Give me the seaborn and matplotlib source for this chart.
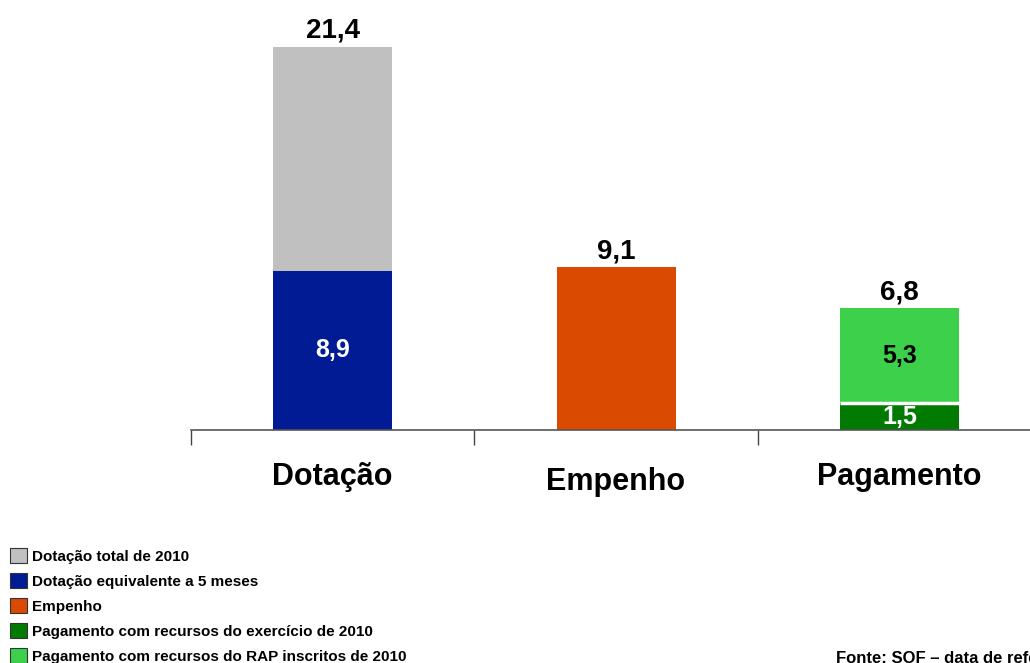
import matplotlib
matplotlib.use("Agg")
import matplotlib.pyplot as plt
from matplotlib.patches import Patch
import seaborn as sns
import pandas as pd

# dados (R$ bilhões)
categorias = ["Dotação", "Empenho", "Pagamento"]
valores_total = [21.4, 9.1, 6.8]       # topo de cada barra
valores_base = [8.9, None, 1.5]        # parte de baixo (5 meses / exercício)
valores_meio = [None, None, 5.3]       # parte RAP do pagamento

rotulos_total = ["21,4", "9,1", "6,8"]
rotulos_base = ["8,9", None, "1,5"]
rotulos_meio = [None, None, "5,3"]

legenda = [
    "Dotação total de 2010",
    "Dotação equivalente a 5 meses",
    "Empenho",
    "Pagamento com recursos do exercício de 2010",
    "Pagamento com recursos do RAP inscritos de 2010",
]
fonte = "Fonte: SOF – data de referência"

cinza = "#C0C0C0"
azul = "#001B94"
laranja = "#DA4A00"
verde_esc = "#007A00"
verde_cla = "#3DD14B"
cores_legenda = [cinza, azul, laranja, verde_esc, verde_cla]

sns.set_style("white")
plt.rcParams["font.family"] = ["Liberation Sans Narrow", "Liberation Sans", "DejaVu Sans"]
plt.rcParams["font.weight"] = "bold"
plt.rcParams["text.color"] = "black"
plt.rcParams["xtick.color"] = "black"

fig = plt.figure(figsize=(10.3, 6.63), dpi=100)
ax = fig.add_axes([191 / 1030, 1 - 430 / 663, 850 / 1030, 430 / 663])

largura = 0.42

# camada de cima: totais
df_total = pd.DataFrame({"cat": categorias, "valor": valores_total})
sns.barplot(data=df_total, x="cat", y="valor", hue="cat",
            palette=[cinza, laranja, verde_cla], width=largura,
            legend=False, ax=ax, saturation=1, linewidth=0)

# camada de baixo
df_base = pd.DataFrame({"cat": categorias, "valor": valores_base}).fillna(0)
sns.barplot(data=df_base, x="cat", y="valor", hue="cat",
            palette=[azul, laranja, verde_esc], width=largura,
            legend=False, ax=ax, saturation=1, linewidth=0)

# linha branca separando os verdes
ax.hlines(valores_base[2], 2 - largura / 2, 2 + largura / 2, color="white", lw=2.5, zorder=5)

for i, (v, r) in enumerate(zip(valores_total, rotulos_total)):
    ax.annotate(r, (i, v), xytext=(0, 2), textcoords="offset points",
                ha="center", va="bottom", fontsize=20, fontweight="bold", color="black")

for i, r in enumerate(rotulos_base):
    if r:
        ax.text(i, valores_base[i] / 2, r, ha="center", va="center",
                fontsize=18, fontweight="bold", color="white", zorder=6)

for i, r in enumerate(rotulos_meio):
    if r:
        ax.text(i, valores_base[i] + valores_meio[i] / 2, r,
                ha="center", va="center", fontsize=18, fontweight="bold",
                color="black", zorder=6)

ax.set_xlim(-0.5, 2.5)
ax.set_ylim(0, 24)
ax.set_xlabel("")
ax.set_ylabel("")
ax.set_yticks([])
ax.set_xticks([0, 1, 2])
ax.set_xticklabels(categorias, fontsize=22, fontweight="bold")
ax.set_xticks([-0.5, 0.5, 1.5, 2.5], minor=True)
ax.tick_params(axis="x", which="major", length=0, pad=23, bottom=False)
ax.tick_params(axis="x", which="minor", length=11, width=1, color="#444444",
               direction="out", bottom=True)
# Empenho um pouco mais baixo no original
ax.get_xticklabels()[1].set_y(-0.012)

for s in ["top", "left", "right"]:
    ax.spines[s].set_visible(False)
ax.spines["bottom"].set_color("#555555")
ax.spines["bottom"].set_linewidth(1.2)

alcas = [Patch(facecolor=c, edgecolor="#333333", linewidth=0.8) for c in cores_legenda]
fig.legend(alcas, legenda, loc="lower left", bbox_to_anchor=(-0.001, -0.017),
           frameon=False, prop={"size": 11, "weight": "bold"},
           handlelength=1.15, handleheight=1.15, handletextpad=0.3,
           labelspacing=0.6, borderpad=0.2)

fig.text(836 / 1030, -0.004, fonte, ha="left", va="bottom", fontsize=12, fontweight="bold")

fig.savefig("out.png", dpi=100)
